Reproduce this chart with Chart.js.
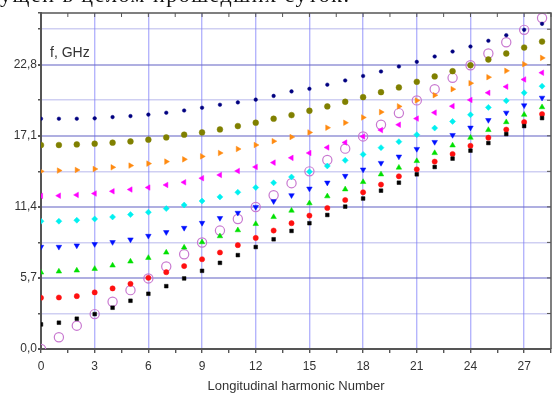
<!DOCTYPE html>
<html lang="ru">
<head>
    <meta charset="UTF-8">
    <title>Longitudinal harmonic dispersion</title>
    <script src="https://cdn.jsdelivr.net/npm/chart.js"></script>
    <style>
        * { margin: 0; padding: 0; }
        body { background: #fff; }
        #wrap { position: relative; width: 557px; height: 394px; overflow: hidden; }
        #topText {
            position: absolute; left: 0; top: -16px;
            font: 22px "Liberation Serif", serif; line-height: 22px;
            letter-spacing: 1.5px;
            color: #111; white-space: nowrap;
        }
    </style>
</head>
<body>
    <div id="wrap">
        <canvas id="chart" width="557" height="394"></canvas>
        <div id="topText">ущен в целом прошедших суток.</div>
    </div>

    <script>
        const harmonics = [0, 1, 2, 3, 4, 5, 6, 7, 8, 9, 10, 11, 12, 13, 14,
                           15, 16, 17, 18, 19, 20, 21, 22, 23, 24, 25, 26, 27, 28];

        const blackSq = [1.97, 2.11, 2.43, 2.80, 3.31, 3.87, 4.43, 5.04, 5.66, 6.27, 6.91, 7.53, 8.18, 8.80, 9.47,
                         10.09, 10.75, 11.42, 12.07, 12.70, 13.34, 14.01, 14.60, 15.27, 15.91, 16.52, 17.24, 17.88, 18.52];
        const redDot = [4.11, 4.13, 4.24, 4.54, 4.86, 5.23, 5.71, 6.16, 6.65, 7.20, 7.74, 8.33, 8.91, 9.50, 10.09,
                        10.70, 11.31, 11.95, 12.57, 13.19, 13.85, 14.41, 15.03, 15.64, 16.30, 16.95, 17.60, 18.20, 18.84];
        const greenUp = [6.14, 6.22, 6.30, 6.43, 6.70, 7.02, 7.31, 7.74, 8.14, 8.57, 9.05, 9.53, 10.03, 10.59, 11.10,
                         11.69, 12.25, 12.81, 13.40, 14.01, 14.55, 15.08, 15.72, 16.33, 16.95, 17.57, 18.20, 18.79, 19.40];
        const blueDown = [8.19, 8.19, 8.30, 8.41, 8.57, 8.78, 9.07, 9.37, 9.71, 10.11, 10.50, 10.92, 11.39, 11.85, 12.33,
                          12.86, 13.34, 13.88, 14.39, 14.92, 15.43, 16.04, 16.60, 17.16, 17.75, 18.36, 18.95, 19.54, 20.15];
        const cyanDia = [10.25, 10.25, 10.33, 10.43, 10.59, 10.78, 10.97, 11.26, 11.55, 11.87, 12.20, 12.57, 12.95, 13.33, 13.80,
                         14.22, 14.68, 15.13, 15.61, 16.15, 16.63, 17.19, 17.72, 18.25, 18.79, 19.38, 19.91, 20.55, 21.08];
        const magentaLeft = [12.28, 12.30, 12.36, 12.47, 12.65, 12.79, 12.95, 13.16, 13.37, 13.70, 13.96, 14.28, 14.60, 14.95, 15.33,
                             15.72, 16.16, 16.56, 17.05, 17.56, 17.99, 18.48, 18.96, 19.48, 19.98, 20.55, 21.04, 21.62, 22.16];
        const orangeRight = [14.25, 14.31, 14.36, 14.44, 14.57, 14.71, 14.87, 15.03, 15.21, 15.45, 15.72, 16.04, 16.36, 16.67, 17.00,
                             17.37, 17.75, 18.15, 18.57, 19.00, 19.46, 19.94, 20.36, 20.84, 21.32, 21.80, 22.31, 22.84, 23.35];
        const oliveDot = [16.36, 16.36, 16.41, 16.47, 16.55, 16.65, 16.79, 16.97, 17.19, 17.37, 17.61, 17.88, 18.15, 18.47, 18.76,
                          19.11, 19.46, 19.83, 20.20, 20.60, 20.98, 21.43, 21.86, 22.28, 22.76, 23.22, 23.70, 24.18, 24.66];
        const navyStar = [18.47, 18.47, 18.47, 18.50, 18.60, 18.68, 18.80, 18.95, 19.13, 19.35, 19.59, 19.78, 20.00, 20.30, 20.66,
                          20.87, 21.20, 21.54, 21.90, 22.26, 22.66, 23.03, 23.46, 23.86, 24.26, 24.72, 25.17, 25.60, 26.08];
        const lightLine = [0.00, 0.94, 1.87, 2.80, 3.79, 4.72, 5.66, 6.62, 7.60, 8.54, 9.50, 10.43, 11.39, 12.33, 13.30,
                           14.25, 15.16, 16.07, 17.05, 17.99, 18.92, 19.94, 20.84, 21.75, 22.76, 23.70, 24.60, 25.60, 26.55];

        const xLabels = ['0', '3', '6', '9', '12', '15', '18', '21', '24', '27'];
        const yLabels = ['0,0', '5,7', '11,4', '17,1', '22,8'];

        function pts(arr) {
            return arr.map((v, i) => ({ x: harmonics[i], y: v }));
        }

        function isMult(v, step) {
            const r = v / step;
            return Math.abs(r - Math.round(r)) < 0.01;
        }

        function series(label, data, color, style, radius, rotation) {
            return {
                label: label,
                data: pts(data),
                pointStyle: style,
                pointRadius: radius,
                rotation: rotation || 0,
                backgroundColor: color,
                borderColor: color,
                borderWidth: 0.5,
                showLine: false
            };
        }

        // frame on top/right with inward ticks, plus the "f, GHz" label
        const framePlugin = {
            id: 'frame',
            afterDraw(chart) {
                const { ctx, chartArea: a, scales } = chart;
                ctx.save();
                ctx.strokeStyle = '#555';
                ctx.lineWidth = 1.5;
                ctx.beginPath();
                ctx.moveTo(a.left, a.top);
                ctx.lineTo(a.right, a.top);
                ctx.lineTo(a.right, a.bottom);
                ctx.stroke();
                ctx.lineWidth = 1;
                ctx.beginPath();
                scales.x.ticks.forEach(t => {
                    const px = scales.x.getPixelForValue(t.value);
                    ctx.moveTo(px, a.top);
                    ctx.lineTo(px, a.top + 4);
                });
                scales.y.ticks.forEach(t => {
                    const py = scales.y.getPixelForValue(t.value);
                    ctx.moveTo(a.right, py);
                    ctx.lineTo(a.right - 4, py);
                });
                ctx.stroke();
                ctx.fillStyle = '#333';
                ctx.font = '14px "Liberation Sans", Arial, sans-serif';
                ctx.textBaseline = 'middle';
                ctx.fillText('f, GHz', a.left + 9, a.top + 40);
                ctx.restore();
            }
        };

        new Chart(document.getElementById('chart'), {
            type: 'scatter',
            data: {
                datasets: [
                    series('black', blackSq, '#000000', 'rect', 2.6),
                    series('red', redDot, '#ff1010', 'circle', 2.6),
                    series('green', greenUp, '#00e000', 'triangle', 3.2),
                    series('blue', blueDown, '#0010ff', 'triangle', 3.2, 180),
                    series('cyan', cyanDia, '#00f0f0', 'rectRot', 3.0),
                    series('magenta', magentaLeft, '#ff00ff', 'triangle', 3.2, 270),
                    series('orange', orangeRight, '#ff8a10', 'triangle', 3.2, 90),
                    series('olive', oliveDot, '#808000', 'circle', 2.9),
                    series('navy', navyStar, '#000080', 'circle', 1.8),
                    {
                        label: 'light',
                        data: pts(lightLine),
                        pointStyle: 'circle',
                        pointRadius: 4.6,
                        backgroundColor: 'rgba(0,0,0,0)',
                        borderColor: '#c878d0',
                        borderWidth: 1.2,
                        showLine: false
                    }
                ]
            },
            options: {
                responsive: false,
                animation: false,
                layout: { padding: { top: 13, right: 1, left: 0, bottom: 0 } },
                plugins: {
                    legend: { display: false },
                    tooltip: { enabled: false }
                },
                scales: {
                    x: {
                        type: 'linear',
                        min: 0,
                        max: 28.5,
                        afterFit: s => { s.height = 45; },
                        border: { color: '#555', width: 2 },
                        grid: {
                            color: c => (c.tick && isMult(c.tick.value, 3) && c.tick.value > 0) ? 'rgba(120,120,250,0.55)' : 'rgba(0,0,0,0)',
                            lineWidth: 1.4,
                            tickColor: '#555',
                            tickLength: 4
                        },
                        ticks: {
                            stepSize: 1.5,
                            autoSkip: false,
                            maxRotation: 0,
                            padding: 6,
                            color: '#333',
                            font: { family: '"Liberation Sans", Arial, sans-serif', size: 12 },
                            callback: v => {
                                const i = xLabels.indexOf(String(Math.round(v)));
                                return (isMult(v, 3) && i >= 0) ? xLabels[i] : '';
                            }
                        },
                        title: {
                            display: true,
                            text: 'Longitudinal harmonic Number',
                            color: '#333',
                            font: { family: '"Liberation Sans", Arial, sans-serif', size: 13 },
                            padding: { top: 0, bottom: 0 }
                        }
                    },
                    y: {
                        type: 'linear',
                        min: 0,
                        max: 26.95,
                        afterFit: s => { s.width = 41; },
                        border: { color: '#555', width: 2 },
                        grid: {
                            color: c => {
                                if (!c.tick || c.tick.value <= 0) return 'rgba(0,0,0,0)';
                                if (isMult(c.tick.value, 5.7)) return 'rgba(110,110,200,0.55)';
                                if (isMult(c.tick.value, 2.85)) return 'rgba(130,130,220,0.38)';
                                return 'rgba(0,0,0,0)';
                            },
                            lineWidth: c => (c.tick && isMult(c.tick.value, 5.7)) ? 2 : 1.6,
                            tickColor: '#555',
                            tickLength: 3
                        },
                        ticks: {
                            stepSize: 2.85,
                            autoSkip: false,
                            padding: 1,
                            color: '#333',
                            font: { family: '"Liberation Sans", Arial, sans-serif', size: 12 },
                            callback: v => {
                                if (!isMult(v, 5.7)) return '';
                                const i = Math.round(v / 5.7);
                                return yLabels[i] || '';
                            }
                        }
                    }
                }
            },
            plugins: [framePlugin]
        });
    </script>
</body>
</html>
